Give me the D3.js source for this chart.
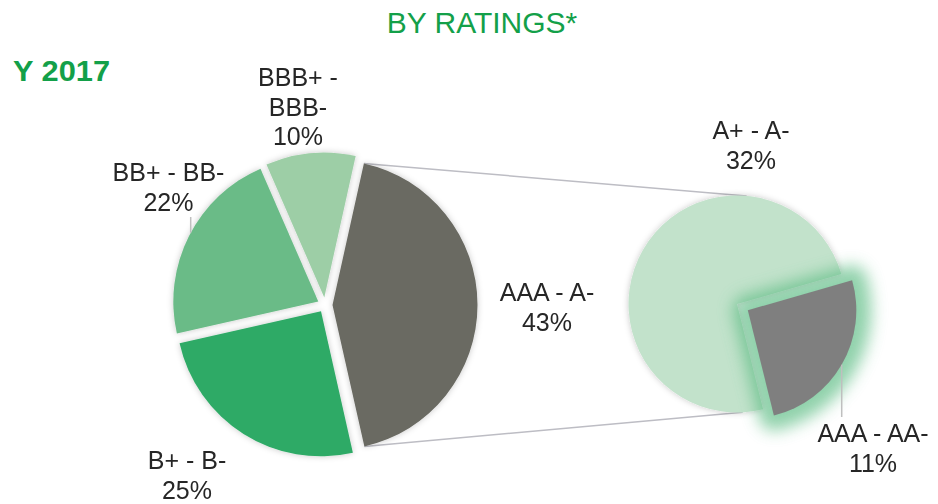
<!DOCTYPE html>
<html>
<head>
<meta charset="utf-8">
<script src="https://cdn.jsdelivr.net/npm/d3@7"></script>
<style>
  body { margin: 0; background: #fff; }
  text { font-family: "Liberation Sans", Arial, sans-serif; }
</style>
</head>
<body>
<svg id="chart"></svg>
<script>
const width = 938;
const height = 504;

// main pie
const mainCategories = ["AAA - A-", "B+ - B-", "BB+ - BB-", "BBB+ - BBB-"];
const mainValues = [43, 25, 22, 10];
// secondary pie, splits "AAA - A-"
const subCategories = ["AAA - AA-", "A+ - A-"];
const subValues = [11, 32];

const mainColors = ["#6a6a62", "#2eaa66", "#6bbb87", "#9dcea6"];
const subColors = ["#7f7f7f", "#c2e2cb"];
const glowColor = "rgb(78,182,120)";

const mainCenter = [325, 305], mainR = 145, mainExplode = [7.5, 7.5, 7.5, 7.5];
const subCenter = [737, 304], subR = 108.5, subExplode = [12.5, 0];
const rad = d => d * Math.PI / 180;

// label anchors: [center x, first baseline]
const labelAnchors = {
    "AAA - A-": [547, 301],
    "B+ - B-": [187, 469],
    "BB+ - BB-": [168.5, 181],
    "BBB+ - BBB-": [298, 86],
    "A+ - A-": [751, 139],
    "AAA - AA-": [873, 442]
};
const lineGap = 29.5;
const textColor = "#262626";
const green = "#13a049";

const svg = d3.select("#chart")
    .attr("width", width)
    .attr("height", height);

const defs = svg.append("defs");
const shadow = defs.append("filter").attr("id", "shadow")
    .attr("x", "-20%").attr("y", "-20%").attr("width", "140%").attr("height", "140%");
shadow.append("feGaussianBlur").attr("in", "SourceAlpha").attr("stdDeviation", 3).attr("result", "b");
shadow.append("feFlood").attr("flood-color", "#000").attr("flood-opacity", 0.22);
shadow.append("feComposite").attr("in2", "b").attr("operator", "in").attr("result", "s");
let m = shadow.append("feMerge");
m.append("feMergeNode").attr("in", "s");
m.append("feMergeNode").attr("in", "SourceGraphic");

defs.append("filter").attr("id", "blur")
    .attr("x", "-60%").attr("y", "-60%").attr("width", "220%").attr("height", "220%")
    .append("feGaussianBlur").attr("stdDeviation", 8);

// titles
svg.append("text")
    .attr("x", 482).attr("y", 33)
    .attr("text-anchor", "middle")
    .attr("font-size", 30)
    .attr("fill", green)
    .text("BY RATINGS*");
svg.append("text")
    .attr("x", 13).attr("y", 80.5)
    .attr("font-size", 29)
    .attr("font-weight", "bold")
    .attr("fill", green)
    .attr("textLength", 97)
    .attr("lengthAdjust", "spacingAndGlyphs")
    .text("Y 2017");

function explodeOffset(a, e) {
    const mid = (a.startAngle + a.endAngle) / 2;
    return [Math.sin(mid) * e, -Math.cos(mid) * e];
}

const mainPie = d3.pie().sort(null).startAngle(rad(12.5)).endAngle(rad(12.5) + 2 * Math.PI);
const subPie = d3.pie().sort(null).startAngle(rad(74)).endAngle(rad(74) + 2 * Math.PI);
const mainArcs = mainPie(mainValues);
const subArcs = subPie(subValues);
const mainArc = d3.arc().innerRadius(0).outerRadius(mainR);
const subArc = d3.arc().innerRadius(0).outerRadius(subR);

// connector lines from the "other" slice to the secondary pie
const other = mainArcs[0];
const oOff = explodeOffset(other, mainExplode[0]);
const ox = mainCenter[0] + oOff[0], oy = mainCenter[1] + oOff[1];
const connectorTargets = [rad(5), rad(177)];
[other.startAngle, other.endAngle].forEach((ang, i) => {
    svg.append("line")
        .attr("x1", ox + Math.sin(ang) * mainR)
        .attr("y1", oy - Math.cos(ang) * mainR)
        .attr("x2", subCenter[0] + Math.sin(connectorTargets[i]) * subR)
        .attr("y2", subCenter[1] - Math.cos(connectorTargets[i]) * subR)
        .attr("stroke", "#bdbdc4")
        .attr("stroke-width", 1.5);
});

// main pie
svg.append("g")
    .attr("filter", "url(#shadow)")
    .selectAll("path")
    .data(mainArcs)
    .join("path")
    .attr("d", mainArc)
    .attr("fill", (d, i) => mainColors[i])
    .attr("transform", (d, i) => {
        const o = explodeOffset(d, mainExplode[i]);
        return `translate(${mainCenter[0] + o[0]},${mainCenter[1] + o[1]})`;
    });

// secondary pie: big slice with shadow, small slice with a green glow
const subTransform = (d, i) => {
    const o = explodeOffset(d, subExplode[i]);
    return `translate(${subCenter[0] + o[0]},${subCenter[1] + o[1]})`;
};
svg.append("g")
    .attr("filter", "url(#shadow)")
    .append("path")
    .datum(subArcs[1])
    .attr("d", subArc)
    .attr("fill", subColors[1])
    .attr("transform", d => subTransform(d, 1));

svg.append("path")
    .datum(subArcs[0])
    .attr("d", subArc)
    .attr("fill", glowColor)
    .attr("stroke", glowColor)
    .attr("stroke-width", 30)
    .attr("stroke-linejoin", "round")
    .attr("opacity", 0.62)
    .attr("filter", "url(#blur)")
    .attr("transform", d => subTransform(d, 0));

svg.append("path")
    .datum(subArcs[0])
    .attr("d", subArc)
    .attr("fill", subColors[0])
    .attr("transform", d => subTransform(d, 0));

// leader lines (vertical, from label to slice edge)
function leader(x, y0, cx, cy, r, below) {
    const dy = Math.sqrt(r * r - (x - cx) * (x - cx));
    const yEdge = below ? cy + dy : cy - dy;
    svg.append("line")
        .attr("x1", x).attr("x2", x)
        .attr("y1", y0).attr("y2", yEdge)
        .attr("stroke", "#bfbfbf")
        .attr("stroke-width", 1.5);
}
const bbOff = explodeOffset(mainArcs[2], mainExplode[2]);
leader(190.7, 217, mainCenter[0] + bbOff[0], mainCenter[1] + bbOff[1], mainR, false);
const aaOff = explodeOffset(subArcs[0], subExplode[0]);
leader(841.7, 417, subCenter[0] + aaOff[0], subCenter[1] + aaOff[1], subR, true);

// labels
function wrap(name) {
    if (name.length <= 9) return [name];
    const k = name.indexOf(" - ");
    return [name.slice(0, k + 2), name.slice(k + 3)];
}
const labelData = mainCategories.map((c, i) => ({name: c, value: mainValues[i]}))
    .concat(subCategories.map((c, i) => ({name: c, value: subValues[i]})));

labelData.forEach(d => {
    const pos = labelAnchors[d.name];
    const lines = wrap(d.name).concat([d.value + "%"]);
    const t = svg.append("text")
        .attr("text-anchor", "middle")
        .attr("font-size", 25)
        .attr("fill", textColor);
    t.selectAll("tspan")
        .data(lines)
        .join("tspan")
        .attr("x", pos[0])
        .attr("y", (l, i) => pos[1] + i * lineGap)
        .text(l => l);
});
</script>
</body>
</html>
